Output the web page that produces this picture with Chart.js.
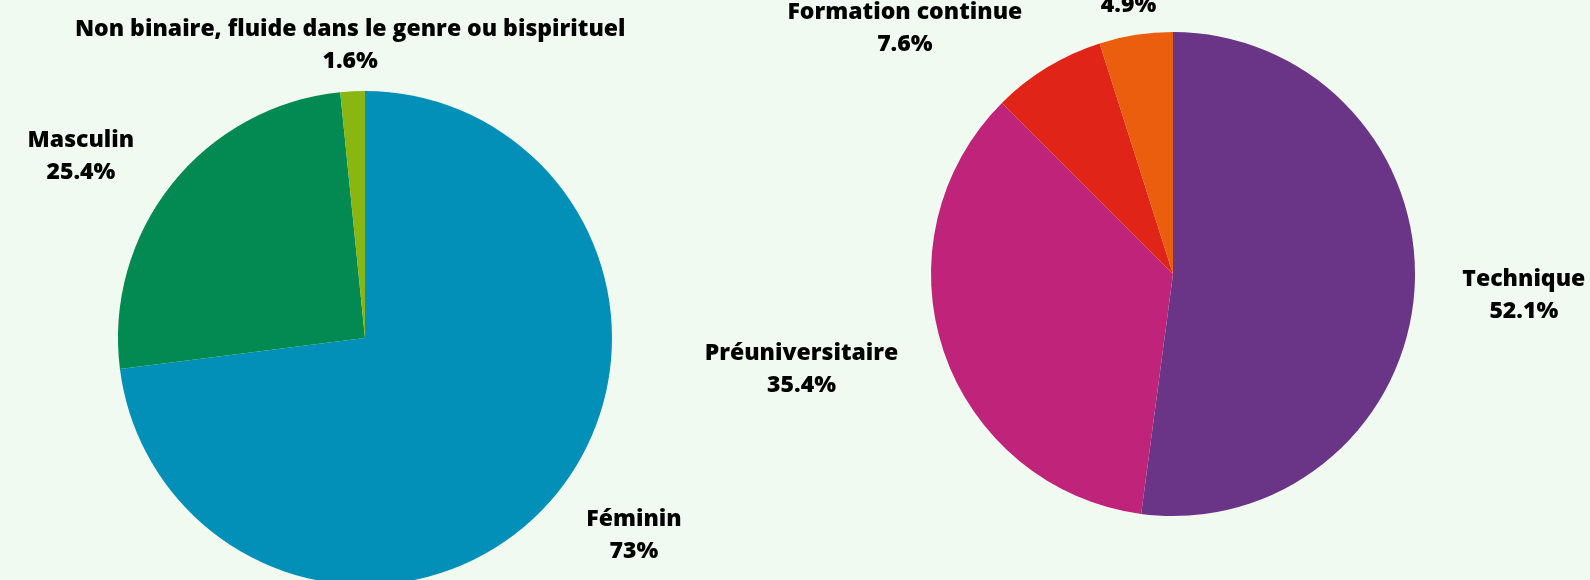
<!DOCTYPE html>
<html lang="fr">
<head>
<meta charset="utf-8">
<script src="https://cdn.jsdelivr.net/npm/chart.js@4/dist/chart.umd.min.js"></script>
<style>
    html, body { margin: 0; padding: 0; background: #f0faf0; overflow: hidden; }
    body { width: 1590px; height: 580px; position: relative; }
    .box { position: absolute; top: 0; left: 0; height: 640px; }
    #genreBox { width: 795px; }
    #programmeBox { width: 1590px; }
</style>
</head>
<body>
<div class="box" id="genreBox"><canvas id="genreChart"></canvas></div>
<div class="box" id="programmeBox"><canvas id="programmeChart"></canvas></div>
<script>
// Genre (left pie)
const genreLabels = ['Féminin', 'Masculin', 'Non binaire, fluide dans le genre ou bispirituel'];
const genreValues = [73, 25.4, 1.6];
const genreColors = ['#0290b8', '#028a52', '#8ab611'];

// Programme (right pie) - the last label is clipped at the top of the picture
const programmeLabels = ['Technique', 'Préuniversitaire', 'Formation continue', 'Tremplin DEC'];
const programmeValues = [52.1, 35.4, 7.6, 4.9];
const programmeColors = ['#6a3586', '#c0237a', '#e02418', '#ea5e0e'];

// Draws "label / value%" outside each slice
const outLabels = {
    id: 'outLabels',
    afterDatasetsDraw(chart) {
        const ctx = chart.ctx;
        const meta = chart.getDatasetMeta(0);
        const values = chart.data.datasets[0].data;
        const lineGap = 32;
        ctx.save();
        ctx.font = '800 23px "Open Sans", "Noto Sans", sans-serif';
        ctx.fillStyle = '#000';
        ctx.textBaseline = 'middle';
        ctx.textAlign = 'center';
        meta.data.forEach((arc, i) => {
            const { x, y, startAngle, endAngle, outerRadius } = arc.getProps(['x', 'y', 'startAngle', 'endAngle', 'outerRadius'], true);
            const mid = (startAngle + endAngle) / 2;
            const dist = outerRadius + 48;
            const ax = x + Math.cos(mid) * dist;
            const ay = y + Math.sin(mid) * dist + 2;
            const lines = [chart.data.labels[i], values[i] + '%'];
            const w = Math.max(...lines.map(t => ctx.measureText(t).width));
            let cx = ax;
            if (Math.cos(mid) > 0.3) cx = ax + w / 2;
            else if (Math.cos(mid) < -0.3) cx = ax - w / 2;
            ctx.fillText(lines[0], cx, ay - lineGap / 2);
            ctx.fillText(lines[1], cx, ay + lineGap / 2);
        });
        ctx.restore();
    }
};

function makePie(id, labels, values, colors, radius, padding) {
    return new Chart(document.getElementById(id), {
        type: 'pie',
        data: {
            labels: labels,
            datasets: [{
                data: values,
                backgroundColor: colors,
                borderWidth: 0,
                hoverOffset: 0
            }]
        },
        options: {
            responsive: true,
            maintainAspectRatio: false,
            animation: false,
            events: [],
            radius: radius,
            layout: { padding: padding },
            plugins: {
                legend: { display: false },
                tooltip: { enabled: false }
            }
        },
        plugins: [outLabels]
    });
}

document.addEventListener('DOMContentLoaded', function() {
    makePie('genreChart', genreLabels, genreValues, genreColors, 247,
        { left: 20, right: 85, top: 46, bottom: 10 });
    makePie('programmeChart', programmeLabels, programmeValues, programmeColors, 242,
        { left: 800, right: 44, top: 10, bottom: 102 });
});
</script>
</body>
</html>
